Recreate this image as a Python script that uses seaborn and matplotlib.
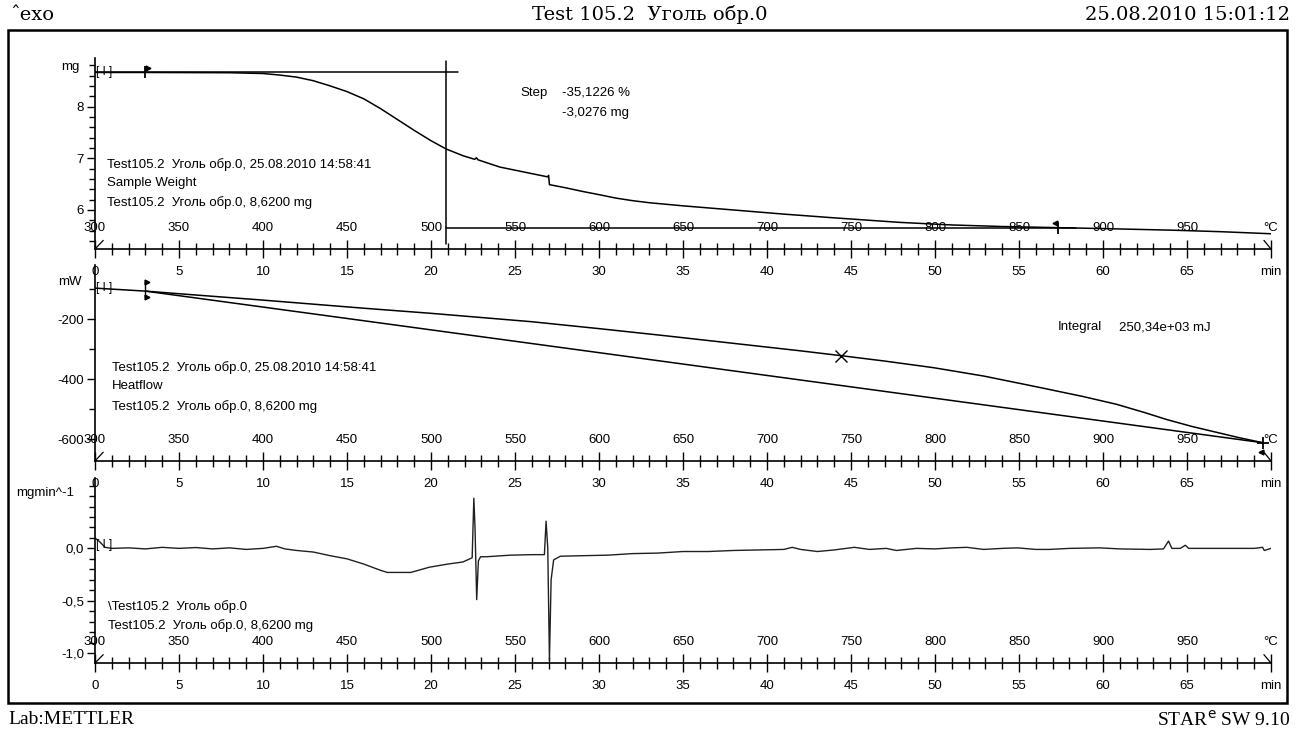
import numpy as np
import matplotlib
matplotlib.use("Agg")
import matplotlib.pyplot as plt
import seaborn as sns
from matplotlib.ticker import MultipleLocator, FixedLocator, FuncFormatter

sns.set_theme(style="ticks")
plt.rcParams['font.family'] = ['Liberation Sans', 'DejaVu Sans']
plt.rcParams['axes.unicode_minus'] = False
plt.rcParams['text.color'] = 'black'

W, H = 1298, 733

# ---- TGA: масса образца, mg
tg_time = [0, 3, 8, 10, 11, 12, 13, 14, 15, 16, 17, 18, 19, 20, 20.9, 21.9, 22.6,
           22.7, 22.8, 24.1, 25.9, 26.95, 27.0, 27.05, 28, 29, 30.1, 31, 32, 33, 35,
           38, 41, 43.9, 47.9, 51, 54, 57, 60, 64, 67, 70]
tg_mass = [8.66, 8.66, 8.655, 8.64, 8.61, 8.57, 8.50, 8.40, 8.29, 8.15, 7.96, 7.75,
           7.54, 7.34, 7.18, 7.05, 6.98, 7.01, 6.97, 6.83, 6.71, 6.64, 6.67, 6.49,
           6.43, 6.36, 6.29, 6.23, 6.18, 6.14, 6.08, 6.00, 5.92, 5.85, 5.76, 5.71,
           5.68, 5.66, 5.64, 5.61, 5.58, 5.54]

# ступень (Step)
step_top_t = [0, 21.6]
step_top_m = [8.66, 8.66]
step_vert_t = [20.9, 20.9]
step_vert_m = [5.35, 8.88]
step_low_t = [20.9, 58.4]
step_low_m = [5.65, 5.65]

# ---- DSC: тепловой поток, mW
hf_time = [0, 3, 6, 10, 16, 20, 26, 30, 34, 38, 42, 44.4, 47, 49.9, 52.9, 55.8,
           58.8, 60.8, 62.5, 63.8, 65.3, 66.8, 68, 69.5]
hf_mw = [-97, -107, -120, -137, -164, -181, -209, -232, -256, -281, -306, -322, -340,
         -362, -390, -423, -458, -484, -512, -535, -558, -578, -594, -612]
base_time = [3.0, 69.5]
base_mw = [-107, -612]
cross_t, cross_mw = 44.4, -322

# ---- DTG: mg/min
dtg_time = [0.0, 0.3, 0.6, 1.0, 2.0, 3.0, 4.0, 5.0, 6.0, 7.0, 8.0, 9.0, 10.0, 10.8,
            11.3, 12.0, 13.0, 14.0, 15.0, 16.0, 17.0, 17.4, 18.8, 19.9, 21.0, 21.9,
            22.45, 22.55, 22.62, 22.72, 22.82, 22.95, 23.3, 24.7, 26.0, 26.75, 26.85,
            26.95, 27.05, 27.15, 27.3, 27.7, 29.0, 30.5, 32.0, 33.5, 35.0, 36.5, 38.0,
            39.5, 41.0, 41.5, 42.0, 43.0, 44.0, 45.2, 46.1, 47.1, 47.7, 48.9, 50.0,
            51.0, 51.9, 52.9, 54.0, 54.9, 56.0, 56.8, 58.0, 59.8, 61.0, 62.8, 63.6,
            63.9, 64.1, 64.6, 64.9, 65.1, 66.0, 67.7, 69.0, 69.5, 69.6, 70.0]
dtg_rate = [0.10, 0.06, 0.01, 0.0, 0.005, -0.005, 0.01, 0.0, 0.008, -0.005, 0.005,
            -0.01, 0.0, 0.02, -0.005, -0.02, -0.035, -0.07, -0.10, -0.15, -0.21, -0.23,
            -0.23, -0.18, -0.15, -0.13, -0.09, 0.48, 0.20, -0.49, -0.12, -0.08, -0.08,
            -0.065, -0.06, -0.06, 0.26, 0.0, -1.07, -0.30, -0.11, -0.075, -0.07, -0.065,
            -0.05, -0.045, -0.03, -0.03, -0.02, -0.015, -0.01, 0.01, -0.01, -0.03,
            -0.015, 0.01, -0.01, 0.0, -0.02, 0.0, -0.005, 0.005, 0.01, -0.01, 0.0,
            0.005, -0.01, -0.01, 0.0, 0.005, -0.005, -0.01, -0.005, 0.07, 0.0, 0.0,
            0.03, 0.0, 0.0, 0.0, 0.0, 0.01, -0.02, 0.0]

min_ticks = list(range(0, 75, 5))
min_labels = [str(v) for v in range(0, 70, 5)] + ['min']
temp_ticks = list(range(300, 1050, 50))
temp_labels = [str(v) for v in range(300, 1000, 50)] + ['°C']

sample = 'Test105.2  Уголь обр.0'
FS = 9.5

fig = plt.figure(figsize=(W / 100, H / 100), dpi=100)


def panel(x0, y0, x1, y1):
    ax = fig.add_axes([x0 / W, 1 - y1 / H, (x1 - x0) / W, (y1 - y0) / H])
    ax.set_facecolor('none')
    ax.set_xlim(0, 70)
    for s in ['top', 'right']:
        ax.spines[s].set_visible(False)
    for s in ['left', 'bottom']:
        ax.spines[s].set_color('black')
        ax.spines[s].set_linewidth(1.2)
    ax.set_xticks(min_ticks, labels=min_labels)
    ax.xaxis.set_minor_locator(MultipleLocator(1))
    ax.tick_params(axis='x', which='major', direction='inout', length=13, width=1,
                   pad=5.5, labelsize=FS, colors='black')
    ax.tick_params(axis='x', which='minor', direction='inout', length=9, width=1,
                   colors='black')
    ax.tick_params(axis='y', which='major', direction='out', length=6, width=1,
                   pad=2, labelsize=FS, colors='black')
    ax.tick_params(axis='y', which='minor', direction='out', length=4, width=1,
                   colors='black')
    sec = ax.secondary_xaxis(0, functions=(lambda t: 300 + 10 * t,
                                           lambda T: (T - 300) / 10))
    sec.set_alignment('top')
    sec.set_xticks(temp_ticks, labels=temp_labels)
    sec.tick_params(length=0, pad=11, labelsize=FS, colors='black')
    for s in sec.spines.values():
        s.set_visible(False)
    # косые штрихи на концах шкалы
    ax.plot([0, 0.007], [0, 0.045], transform=ax.transAxes, color='black', lw=0.9,
            clip_on=False)
    ax.plot([0.994, 1.0], [0.045, 0], transform=ax.transAxes, color='black', lw=0.9,
            clip_on=False)
    return ax


# ---------- панель 1: TGA
ax1 = panel(95, 58, 1271, 249)
sns.lineplot(x=tg_time, y=tg_mass, ax=ax1, color='black', linewidth=1.1,
             estimator=None, sort=False)
ax1.plot(step_top_t, step_top_m, color='black', lw=1.1)
ax1.plot(step_vert_t, step_vert_m, color='black', lw=1.1)
ax1.plot(step_low_t, step_low_m, color='black', lw=1.1)
ax1.plot([3.0, 57.3], [8.66, 5.65], ls='none', marker='|', ms=9, mec='black', mew=1.3)
ax1.plot([3.15], [8.75], ls='none', marker='>', ms=3.5, color='black')
ax1.plot([57.15], [5.74], ls='none', marker='<', ms=3.5, color='black')
ax1.set_ylim(5.245, 8.94)
ax1.yaxis.set_major_locator(MultipleLocator(1))
ax1.yaxis.set_minor_locator(MultipleLocator(0.2))
ax1.yaxis.set_major_formatter(FuncFormatter(lambda v, p: f'{v:.0f}'))
ax1.set_xlabel('')
ax1.set_ylabel('')
ax1.text(-0.013, 8.77, 'mg', transform=ax1.get_yaxis_transform(), ha='right',
         va='center', fontsize=FS)
ax1.text(0.05, 8.66, '[ I ]', fontsize=8.5, va='center', ha='left')
ax1.text(0.71, 6.87, sample + ', 25.08.2010 14:58:41', fontsize=FS, va='center')
ax1.text(0.71, 6.52, 'Sample Weight', fontsize=FS, va='center')
ax1.text(0.71, 6.14, sample + ', 8,6200 mg', fontsize=FS, va='center')
ax1.text(25.3, 8.27, 'Step', fontsize=FS, va='center')
ax1.text(27.8, 8.27, '-35,1226 %', fontsize=FS, va='center')
ax1.text(27.8, 7.88, '-3,0276 mg', fontsize=FS, va='center')

# ---------- панель 2: DSC
ax2 = panel(95, 265, 1271, 461)
sns.lineplot(x=hf_time, y=hf_mw, ax=ax2, color='black', linewidth=1.1,
             estimator=None, sort=False)
ax2.plot(base_time, base_mw, color='black', lw=1.1)
ax2.plot([cross_t], [cross_mw], ls='none', marker='x', ms=8, mew=1, color='black')
ax2.plot([3.0, 3.0], [-76, -126], color='black', lw=1)
ax2.plot([3.1, 3.1], [-76, -126], ls='none', marker='>', ms=3.5, color='black')
ax2.plot([69.5], [-612], ls='none', marker='+', ms=9, mew=1.3, color='black')
ax2.plot([69.4], [-642], ls='none', marker='<', ms=3.5, color='black')
ax2.set_ylim(-673, -20)
ax2.yaxis.set_major_locator(MultipleLocator(200))
ax2.yaxis.set_minor_locator(MultipleLocator(100))
ax2.yaxis.set_major_formatter(FuncFormatter(lambda v, p: f'{v:.0f}'))
ax2.set_xlabel('')
ax2.set_ylabel('')
ax2.text(-0.011, -75, 'mW', transform=ax2.get_yaxis_transform(), ha='right',
         va='center', fontsize=FS)
ax2.text(0.05, -97, '[ I ]', fontsize=8.5, va='center', ha='left')
ax2.text(1.0, -360, sample + ', 25.08.2010 14:58:41', fontsize=FS, va='center')
ax2.text(1.0, -423, 'Heatflow', fontsize=FS, va='center')
ax2.text(1.0, -490, sample + ', 8,6200 mg', fontsize=FS, va='center')
ax2.text(57.3, -227, 'Integral', fontsize=FS, va='center')
ax2.text(60.95, -227, '250,34e+03 mJ', fontsize=FS, va='center')

# ---------- панель 3: DTG
ax3 = panel(95, 478, 1271, 663)
sns.lineplot(x=dtg_time, y=dtg_rate, ax=ax3, color='#202020', linewidth=1.0,
             estimator=None, sort=False)
ax3.set_ylim(-1.096, 0.673)
ax3.yaxis.set_major_locator(FixedLocator([-1.0, -0.5, 0.0]))
ax3.yaxis.set_minor_locator(MultipleLocator(0.1))
ax3.yaxis.set_major_formatter(FuncFormatter(lambda v, p: f'{v:.1f}'.replace('.', ',')))
ax3.set_xlabel('')
ax3.set_ylabel('')
ax3.text(-0.018, 0.53, 'mgmin^-1', transform=ax3.get_yaxis_transform(), ha='right',
         va='center', fontsize=FS)
ax3.text(0.05, 0.03, '[ I ]', fontsize=8.5, va='center', ha='left')
ax3.text(0.77, -0.56, '\\' + sample, fontsize=FS, va='center')
ax3.text(0.77, -0.74, sample + ', 8,6200 mg', fontsize=FS, va='center')

# ---------- рамка и заголовки
fig.add_artist(plt.Rectangle((8 / W, 1 - 703 / H), (1287 - 8) / W, (703 - 30) / H,
                             transform=fig.transFigure, fill=False, lw=1.8,
                             edgecolor='black'))
head = ['DejaVu Serif', 'Liberation Serif']
foot = ['Liberation Serif', 'DejaVu Serif']
fig.text(10 / W, 1 - 15 / H, 'ˆexo', family=head, fontsize=14, va='center', ha='left')
fig.text(650 / W, 1 - 15 / H, 'Test 105.2  Уголь обр.0', family=head, fontsize=14,
         va='center', ha='center')
fig.text(1290 / W, 1 - 15 / H, '25.08.2010 15:01:12', family=head, fontsize=14,
         va='center', ha='right')
fig.text(8 / W, 1 - 720 / H, 'Lab:METTLER', family=foot, fontsize=14, va='center',
         ha='left')
fig.text(1290 / W, 1 - 720 / H, r'STAR$^{\mathrm{e}}$ SW 9.10', family=foot,
         fontsize=14, va='center', ha='right')

fig.savefig('out.png', dpi=100, facecolor='white')
